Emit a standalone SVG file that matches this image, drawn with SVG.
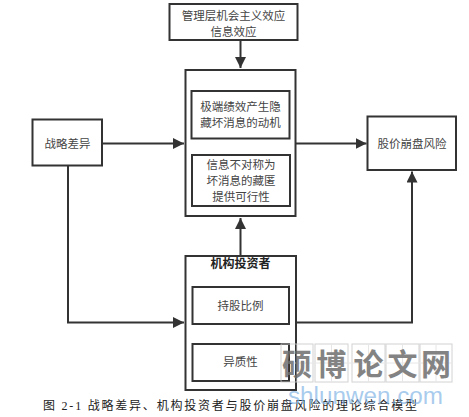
<svg xmlns="http://www.w3.org/2000/svg" width="469" height="417" viewBox="0 0 469 417">
<style>
.box{fill:#fff;stroke:#333;stroke-width:2}
.t{font-family:"Liberation Sans","Noto Sans CJK SC",sans-serif;font-size:11.5px;fill:#444;text-anchor:middle}
.tb{font-family:"Liberation Sans","Noto Sans CJK SC",sans-serif;font-size:12px;font-weight:bold;fill:#222;text-anchor:middle}
.c{fill:none;stroke:#333;stroke-width:2}
.cap{font-family:"Liberation Serif","Noto Sans CJK SC",serif;font-size:12px;fill:#222}
.wm{font-family:"Noto Sans CJK SC",sans-serif;font-size:30px;font-weight:bold;fill:#6e6e6e;text-anchor:middle}
.cell{fill:none;stroke:#ccc;stroke-width:1}
</style>
<defs>
<marker id="ah" viewBox="0 0 10 10" refX="10" refY="5" markerWidth="5.5" markerHeight="5.5" orient="auto" markerUnits="strokeWidth">
<path d="M0,0 L10,5 L0,10 z" fill="#333"/>
</marker>
</defs>
<rect width="469" height="417" fill="#fff"/>
<g id="connectors">
<path class="c" d="M240.5,40 V68" marker-end="url(#ah)"/>
<path class="c" d="M102,143.5 H184" marker-end="url(#ah)"/>
<path class="c" d="M68,166 V322.5 H184" marker-end="url(#ah)"/>
<path class="c" d="M296,143.5 H366.5" marker-end="url(#ah)"/>
<path class="c" d="M240.5,255.5 V218" marker-end="url(#ah)"/>
<path class="c" d="M296,322.5 H412 V171.5" marker-end="url(#ah)"/>
</g>
<g id="node-mgmt">
<rect class="box" x="169.5" y="4" width="128" height="36"/>
<text class="t" x="233.5" y="19.5">管理层机会主义效应</text>
<text class="t" x="233.5" y="35.5">信息效应</text>
</g>
<g id="node-mechanism">
<rect class="box" x="185.5" y="70" width="110" height="146"/>
<g id="node-motive">
<rect class="box" x="191.5" y="91" width="98" height="47.5"/>
<text class="t" x="240.5" y="110.5">极端绩效产生隐</text>
<text class="t" x="240.5" y="126.5">藏坏消息的动机</text>
</g>
<g id="node-feasibility">
<rect class="box" x="192" y="155" width="98" height="51"/>
<text class="t" x="241" y="169">信息不对称为</text>
<text class="t" x="241" y="185">坏消息的藏匿</text>
<text class="t" x="241" y="201">提供可行性</text>
</g>
</g>
<g id="node-strategy">
<rect class="box" x="32.5" y="119.5" width="69.5" height="46"/>
<text class="t" x="67.5" y="147.5">战略差异</text>
</g>
<g id="node-crash">
<rect class="box" x="367.5" y="116.5" width="88.5" height="53.5"/>
<text class="t" x="412" y="147.5">股价崩盘风险</text>
</g>
<g id="node-investor">
<rect class="box" x="185.5" y="256" width="110.5" height="134"/>
<text class="tb" x="240.5" y="267.5">机构投资者</text>
<g id="node-holding">
<rect class="box" x="192.5" y="287" width="96.5" height="37"/>
<text class="t" x="240.5" y="309.5">持股比例</text>
</g>
<g id="node-hetero">
<rect class="box" x="192.5" y="344" width="96.5" height="37"/>
<text class="t" x="240.5" y="366">异质性</text>
</g>
</g>
<text class="cap" x="43" y="409.5" textLength="374" lengthAdjust="spacing">图 2-1 战略差异、机构投资者与股价崩盘风险的理论综合模型</text>
<g id="watermark" opacity="0.85">
<rect class="cell" x="281" y="344" width="32" height="38" fill="rgba(255,255,255,0.45)"/>
<rect class="cell" x="315" y="344" width="33" height="38" fill="rgba(255,255,255,0.45)"/>
<rect class="cell" x="352" y="344" width="33" height="38" fill="rgba(255,255,255,0.45)"/>
<rect class="cell" x="386" y="344" width="33" height="38" fill="rgba(255,255,255,0.45)"/>
<rect class="cell" x="420" y="344" width="32" height="38" fill="rgba(255,255,255,0.45)"/>
<path d="M297,344V382M331.5,344V382M368.5,344V382M402.5,344V382M436,344V382M281,363H452" stroke="#e2e2e2" stroke-width="1" fill="none"/>
<text class="wm" x="297" y="375">硕</text>
<text class="wm" x="331.5" y="375">博</text>
<text class="wm" x="368.5" y="375">论</text>
<text class="wm" x="402.5" y="375">文</text>
<text class="wm" x="436" y="375">网</text>
<text x="288" y="404" font-family="Liberation Sans,sans-serif" font-size="23" fill="#7fb4e6" fill-opacity="0.8" textLength="155" lengthAdjust="spacingAndGlyphs">shlunwen.com</text>
</g>
</svg>
